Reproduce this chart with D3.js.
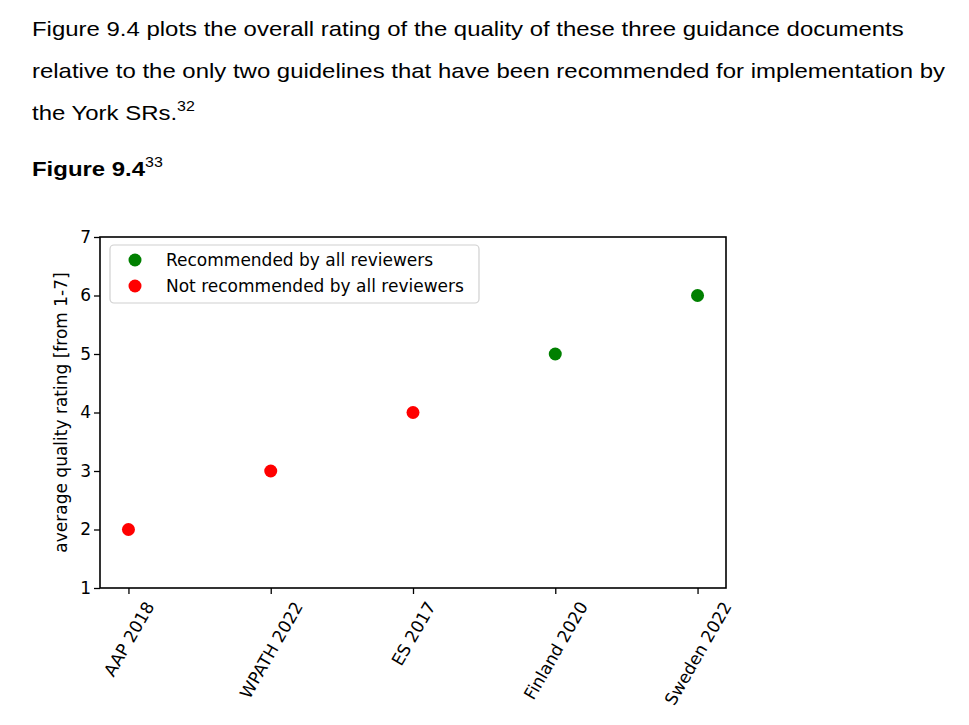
<!DOCTYPE html>
<html>
<head>
<meta charset="utf-8">
<script src="https://cdn.jsdelivr.net/npm/d3@7"></script>
<style>
  body { margin: 0; background: #fff; }
  .para { position: absolute; left: 32px; top: 8px; font-family: "Liberation Sans", Arial, sans-serif; font-size: 21px; line-height: 42px; color: #000; white-space: nowrap; transform: scaleX(1.14); transform-origin: 0 0; }
  .para sup { font-size: 14px; vertical-align: 9px; line-height: 0; }
  .fig { position: absolute; left: 32px; top: 157px; font-family: "Liberation Sans", Arial, sans-serif; font-size: 21px; font-weight: bold; transform: scaleX(1.14); transform-origin: 0 0; }
  .fig sup { font-size: 14px; font-weight: normal; vertical-align: 9px; line-height: 0; }
  #chart { position: absolute; left: 0; top: 0; }
</style>
</head>
<body>
<div class="para">Figure 9.4 plots the overall rating of the quality of these three guidance documents<br>relative to the only two guidelines that have been recommended for implementation by<br>the York SRs.<sup>32</sup></div>
<div class="fig">Figure 9.4<sup>33</sup></div>
<svg id="chart" width="969" height="725"></svg>
<script>
const guidelines = ['AAP 2018', 'WPATH 2022', 'ES 2017', 'Finland 2020', 'Sweden 2022'];
const ratings = [2, 3, 4, 5, 6];
const recommended = [false, false, false, true, true];
const yTicks = [1, 2, 3, 4, 5, 6, 7];
const legendLabels = ['Recommended by all reviewers', 'Not recommended by all reviewers'];

const green = '#008000';
const red = '#ff0000';
const font = '"DejaVu Sans", sans-serif';
const fs = 17;

const plotLeft = 100, plotRight = 726, plotTop = 237, plotBottom = 588;

const svg = d3.select('#chart');

const x = d3.scaleLinear().domain([-0.2, 4.2]).range([plotLeft, plotRight]);
const y = d3.scaleLinear().domain([1, 7]).range([plotBottom, plotTop]);

// y axis
const yAxis = svg.append('g')
  .attr('transform', `translate(${plotLeft},0)`)
  .call(d3.axisLeft(y).tickValues(yTicks).tickFormat(d3.format('d')).tickSize(6).tickPadding(3).tickSizeOuter(0));
yAxis.select('.domain').remove();
yAxis.selectAll('line').attr('stroke', '#000').attr('stroke-width', 1.3);
yAxis.selectAll('text').attr('font-family', font).attr('font-size', fs).attr('fill', '#000');

// x axis
const xAxis = svg.append('g')
  .attr('transform', `translate(0,${plotBottom})`)
  .call(d3.axisBottom(x).tickValues(d3.range(guidelines.length)).tickSize(6).tickSizeOuter(0).tickFormat(i => guidelines[i]));
xAxis.select('.domain').remove();
xAxis.selectAll('line').attr('stroke', '#000').attr('stroke-width', 1.3);
xAxis.selectAll('text')
  .attr('font-family', font).attr('font-size', fs).attr('fill', '#000')
  .attr('y', null).attr('dy', null)
  .attr('text-anchor', 'middle')
  .attr('dominant-baseline', 'central')
  .attr('transform', function () {
    const len = this.getComputedTextLength();
    const a = Math.PI / 3;
    const bh = len * Math.sin(a) + fs * Math.cos(a);
    return `translate(0,${11 + bh / 2}) rotate(-60)`;
  });

// frame
svg.append('rect')
  .attr('x', plotLeft).attr('y', plotTop)
  .attr('width', plotRight - plotLeft).attr('height', plotBottom - plotTop)
  .attr('fill', 'none').attr('stroke', '#000').attr('stroke-width', 1.6);

// points
svg.append('g').selectAll('circle')
  .data(ratings)
  .join('circle')
  .attr('cx', (d, i) => x(i))
  .attr('cy', d => y(d))
  .attr('r', 6.5)
  .attr('fill', (d, i) => recommended[i] ? green : red);

// y label
svg.append('text')
  .attr('transform', `translate(67,${(plotTop + plotBottom) / 2}) rotate(-90)`)
  .attr('text-anchor', 'middle')
  .attr('font-family', font).attr('font-size', fs)
  .text('average quality rating [from 1-7]');

// legend
const legend = svg.append('g');
legend.append('rect')
  .attr('x', 110).attr('y', 245).attr('width', 369).attr('height', 58)
  .attr('rx', 4).attr('fill', '#fff').attr('stroke', '#d0d0d0').attr('stroke-width', 1.2);
legendLabels.forEach((t, i) => {
  legend.append('circle')
    .attr('cx', 135).attr('cy', 260 + i * 26).attr('r', 6.5)
    .attr('fill', i === 0 ? green : red);
  legend.append('text')
    .attr('x', 166).attr('y', 260 + i * 26).attr('dy', '0.35em')
    .attr('font-family', font).attr('font-size', fs)
    .text(t);
});
</script>
</body>
</html>
